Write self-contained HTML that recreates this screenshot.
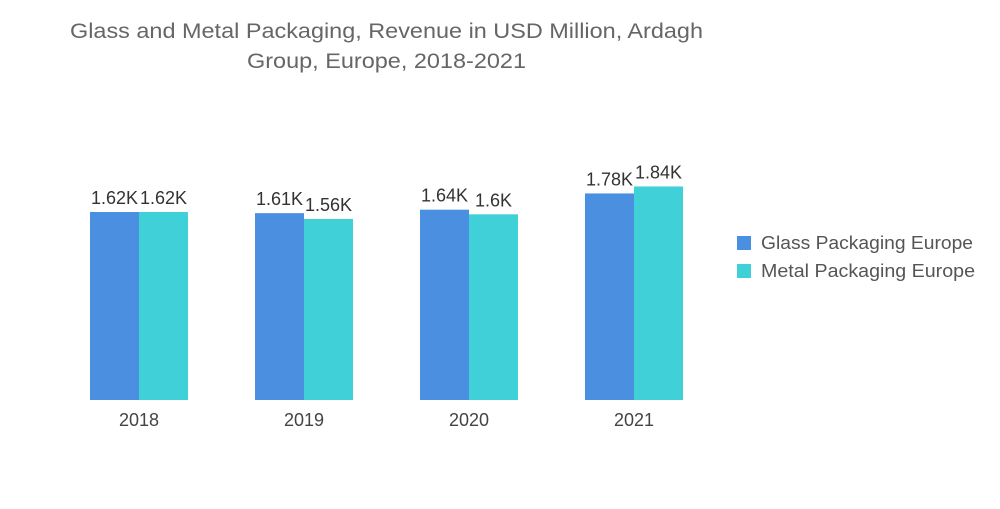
<!DOCTYPE html>
<html><head><meta charset="utf-8"><style>
body{margin:0;background:#fff;width:1000px;height:504px;overflow:hidden;font-family:"Liberation Sans",sans-serif}
svg text{font-family:"Liberation Sans",sans-serif}
</style></head><body>
<svg id="chart" width="1000" height="504">
<text x="70" y="38" font-size="21" fill="#666" textLength="633" lengthAdjust="spacingAndGlyphs">Glass and Metal Packaging, Revenue in USD Million, Ardagh</text>
<text x="247" y="68" font-size="21" fill="#666" textLength="279" lengthAdjust="spacingAndGlyphs">Group, Europe, 2018-2021</text>
<g id="bars"></g>
<g>
<rect x="737" y="236" width="14" height="14" fill="#4a8fe0"/>
<text x="761" y="249" font-size="18" fill="#555" textLength="212" lengthAdjust="spacingAndGlyphs">Glass Packaging Europe</text>
<rect x="737" y="264" width="14" height="14" fill="#40d0d8"/>
<text x="761" y="277" font-size="18" fill="#555" textLength="214" lengthAdjust="spacingAndGlyphs">Metal Packaging Europe</text>
</g>
</svg>
<script>
const categories=["2018","2019","2020","2021"];
const glassValues=[1620,1610,1640,1780];
const metalValues=[1620,1560,1600,1840];
const glassLabels=["1.62K","1.61K","1.64K","1.78K"];
const metalLabels=["1.62K","1.56K","1.6K","1.84K"];
const NS="http://www.w3.org/2000/svg";
const g=document.getElementById('bars');
const base=400,scale=188/1620,bw=49;
const xC=i=>139+i*165;
const y=v=>base-v*scale;
function mk(t,a){const e=document.createElementNS(NS,t);for(const k in a)e.setAttribute(k,a[k]);g.appendChild(e);return e;}
categories.forEach((c,i)=>{
  const cx=xC(i);
  const r1=mk('rect',{x:cx-bw,y:y(glassValues[i]),width:bw,height:base-y(glassValues[i]),fill:'#4a8fe0'});
  
  
  const r2=mk('rect',{x:cx,y:y(metalValues[i]),width:bw,height:base-y(metalValues[i]),fill:'#40d0d8'});
  
  
  const t1=mk('text',{x:cx-bw/2,y:y(glassValues[i])-8,'text-anchor':'middle','font-size':18,fill:'#333'});
  t1.textContent=glassLabels[i];
  
  
  const t2=mk('text',{x:cx+bw/2,y:y(metalValues[i])-8,'text-anchor':'middle','font-size':18,fill:'#333'});
  t2.textContent=metalLabels[i];
  
  
  const t3=mk('text',{x:cx,y:426,'text-anchor':'middle','font-size':18,fill:'#444'});
  t3.textContent=c;
  
  
});
</script>
</body></html>
